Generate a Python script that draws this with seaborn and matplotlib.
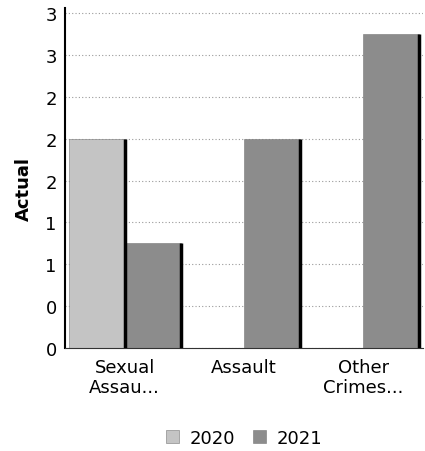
import pandas as pd
import matplotlib.pyplot as plt
import seaborn as sns
from matplotlib.ticker import FuncFormatter

categories = ["Sexual\nAssau...", "Assault", "Other\nCrimes..."]
years = ["2020", "2021"]
actual_2020 = [2, 0, 0]
actual_2021 = [1, 2, 3]
y_ticks = [0, 0.4, 0.8, 1.2, 1.6, 2.0, 2.4, 2.8, 3.2]

crime_data = pd.DataFrame({
    "Category": categories * 2,
    "Year": [years[0]] * 3 + [years[1]] * 3,
    "Actual": actual_2020 + actual_2021,
})

sns.set_style("white")
plt.rcParams["font.family"] = ["DejaVu Sans"]

fig = plt.figure(figsize=(4.25, 4.52), dpi=100)
ax = fig.add_axes([0.153, 0.228, 0.842, 0.752])

sns.barplot(
    data=crime_data,
    x="Category",
    y="Actual",
    hue="Year",
    palette={"2020": "#c4c4c4", "2021": "#8c8c8c"},
    width=0.94,
    edgecolor="#777777",
    linewidth=0.4,
    ax=ax,
)

# dark right side to fake the 3d look
for bar in ax.patches:
    h = bar.get_height()
    if h > 0:
        x1 = bar.get_x() + bar.get_width()
        ax.plot([x1, x1], [0, h], color="black", lw=2.5, solid_capstyle="butt", zorder=3)

ax.set_ylim(0, 3.25)
ax.set_xlim(-0.5, 2.5)
ax.set_yticks(y_ticks)
ax.yaxis.set_major_formatter(FuncFormatter(lambda v, p: f"{v:.0f}"))
ax.yaxis.grid(True, linestyle=(0, (1, 2)), color="#9a9a9a", linewidth=0.8)
ax.set_axisbelow(True)

for side in ["top", "right"]:
    ax.spines[side].set_visible(False)
ax.spines["left"].set_color("black")
ax.spines["left"].set_linewidth(1.5)
ax.spines["bottom"].set_color("#333333")

ax.tick_params(axis="y", labelsize=13, length=0, pad=6, labelcolor="black")
ax.tick_params(axis="x", labelsize=13, length=0, pad=7, labelcolor="black")
ax.set_xlabel("")
ax.set_ylabel("Actual", fontsize=13, fontweight="bold", color="black")
ax.yaxis.set_label_coords(-0.09, 0.47)

handles, labels = ax.get_legend_handles_labels()
leg = ax.legend(
    handles, labels,
    loc="upper center",
    bbox_to_anchor=(0.5, -0.19),
    ncol=2,
    frameon=False,
    fontsize=13,
    handlelength=0.7,
    handleheight=0.7,
    handletextpad=0.6,
    columnspacing=1.0,
)
for t in leg.get_texts():
    t.set_color("black")

fig.savefig("out.png", dpi=100)
